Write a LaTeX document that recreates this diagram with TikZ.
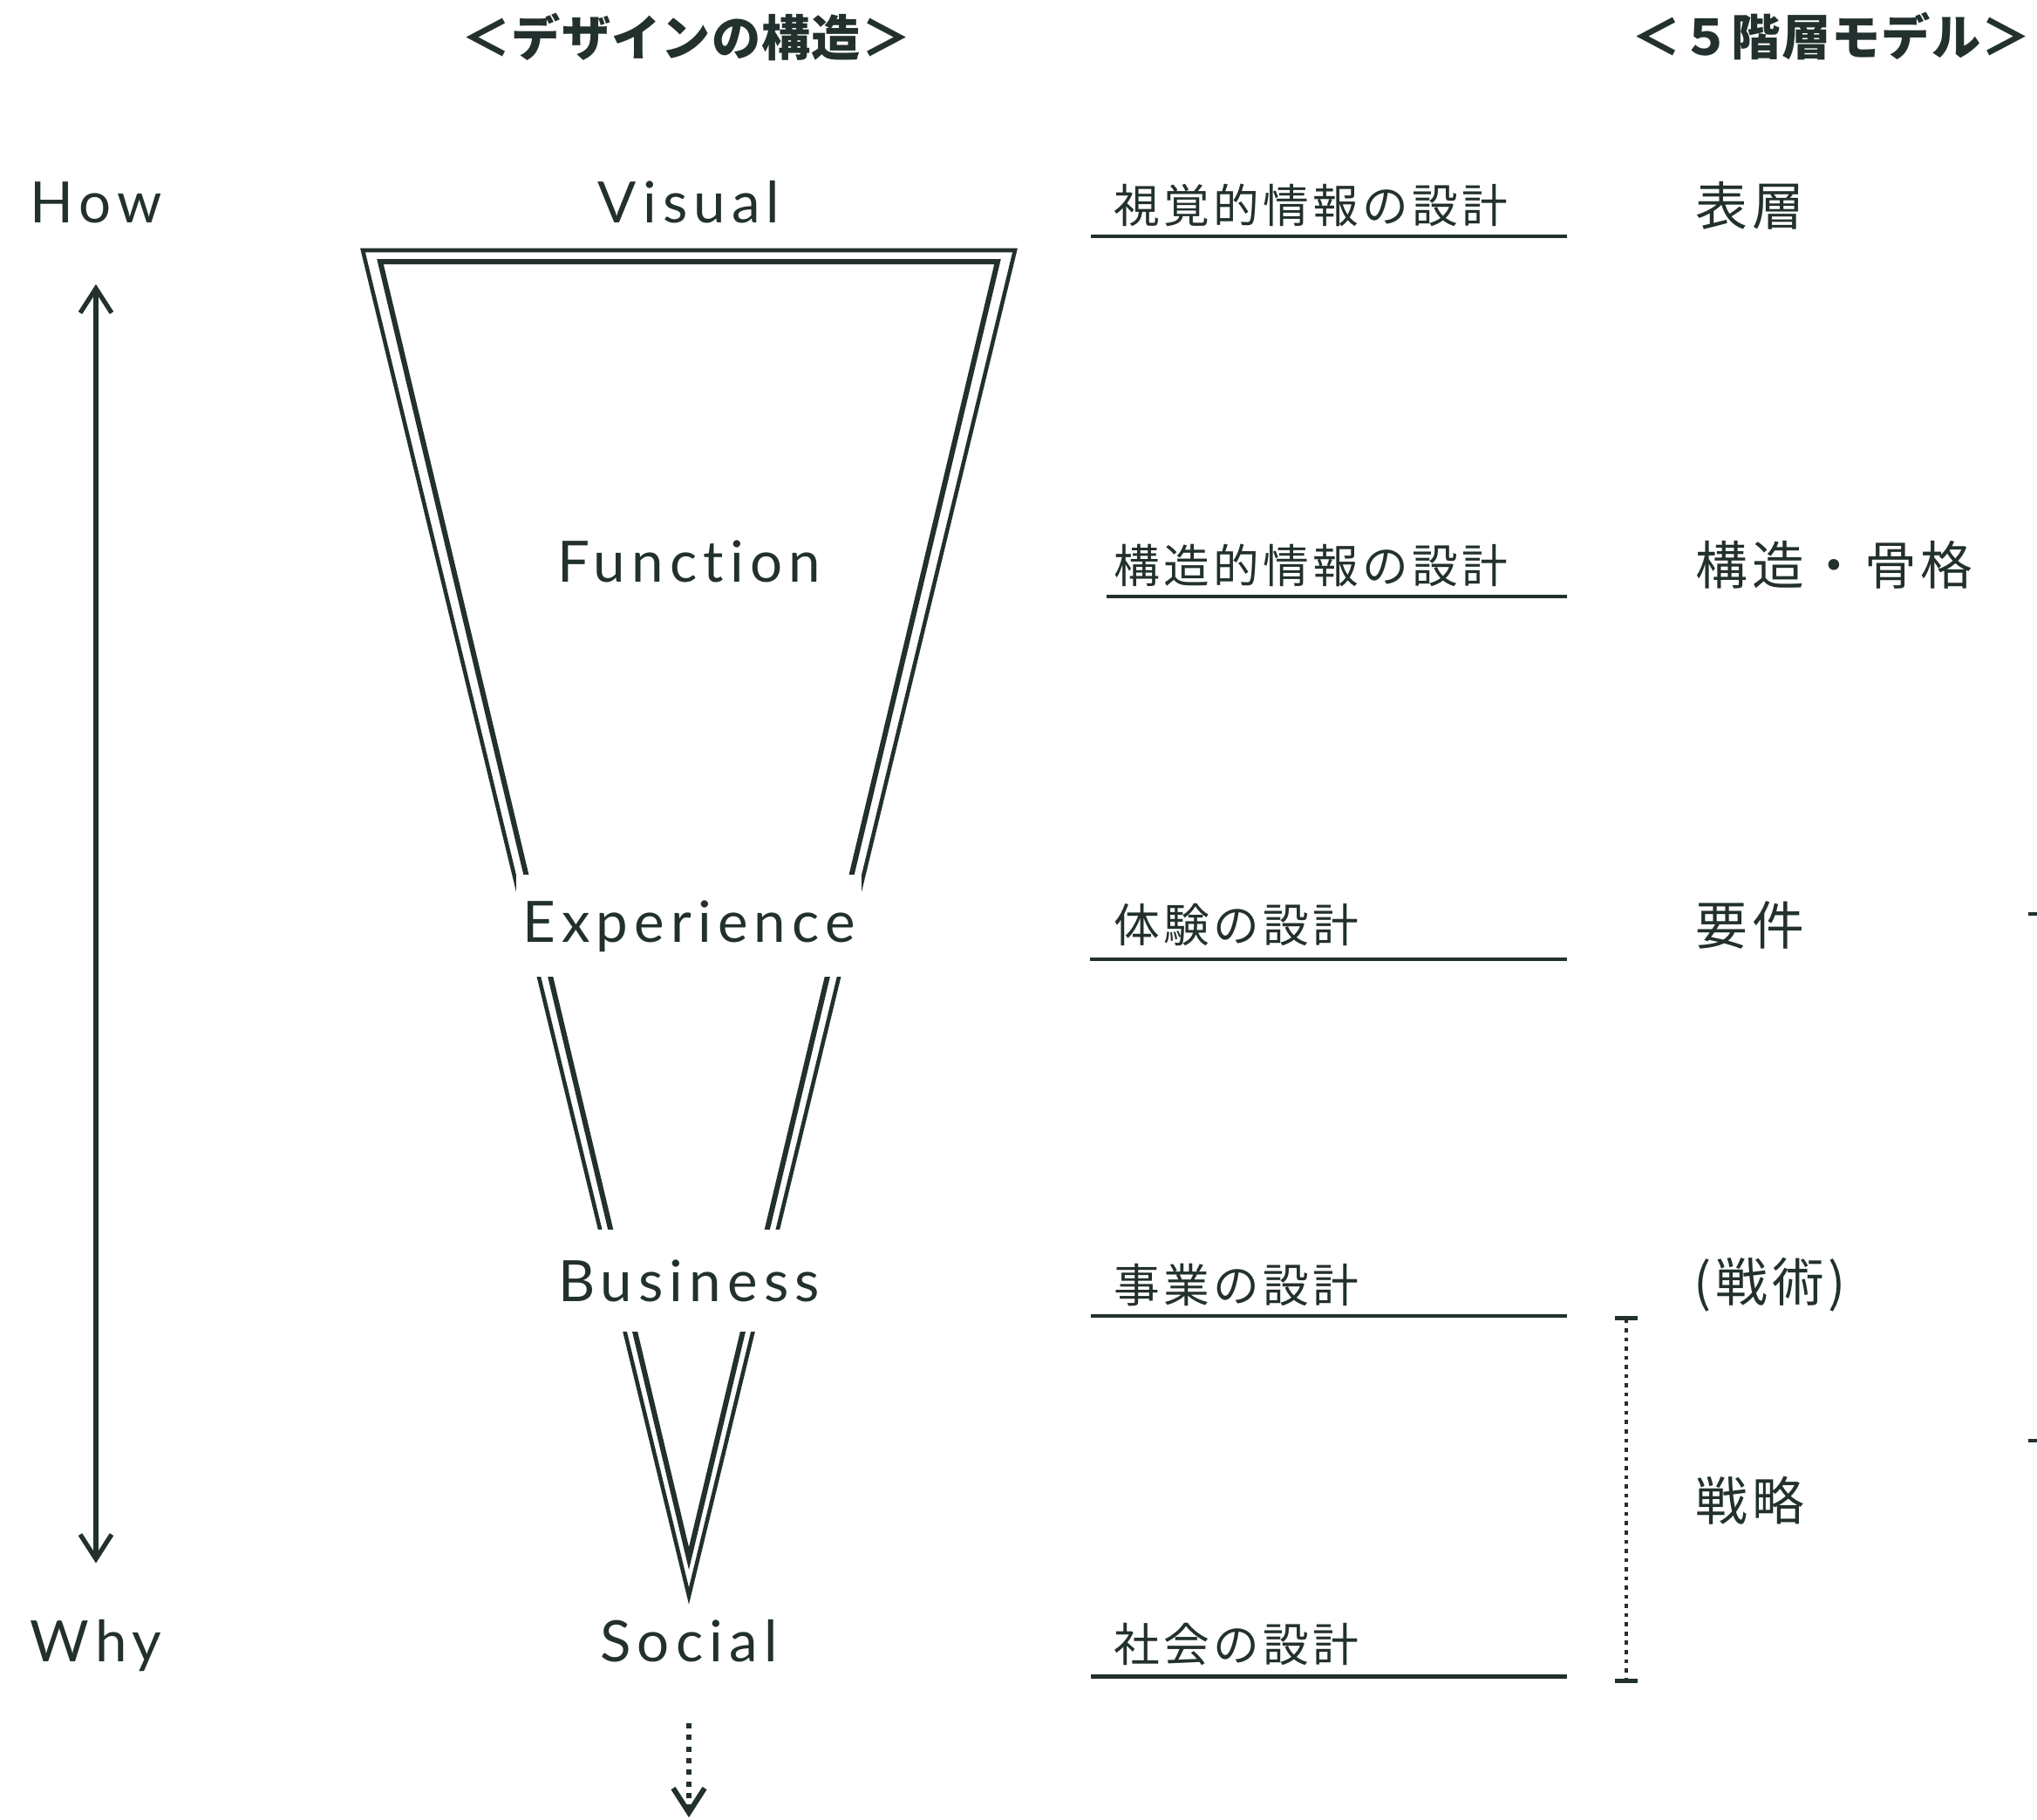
\documentclass[tikz,border=0pt]{standalone}
\usepackage{fontspec}
\setmainfont{Lato}
\newfontfamily\enfont[LetterSpace=11, Ligatures=NoCommon]{Lato}
\newfontfamily\jpfont[LetterSpace=8]{Noto Sans CJK JP}
\newfontfamily\jptitlefont[LetterSpace=2]{Noto Sans CJK JP}
\usetikzlibrary{arrows.meta}
\definecolor{ink}{HTML}{22302E}

\begin{document}
\begin{tikzpicture}[draw=ink, text=ink,
	>={Straight Barb[length=2.8mm,width=3.6mm]},
	en/.style = {anchor=base, font=\enfont\fontsize{18.6}{22}\selectfont},
	cut/.style = {fill=white, minimum height=1.17cm, inner xsep=2pt},
	jp/.style = {anchor=west, inner sep=0pt, font=\jpfont\fontsize{15}{18}\selectfont},
	layer/.style = {anchor=west, inner sep=0pt, font=\jpfont\fontsize{17}{20}\selectfont},
	title/.style = {font=\jptitlefont\bfseries\fontsize{16}{20}\selectfont}]
	\useasboundingbox (0,0) rectangle (23.36,-20.86);
	% funnel
	\coordinate (oL) at (4.16,-2.87);
	\coordinate (oR) at (11.64,-2.87);
	\coordinate (oA) at (7.90,-18.30);
	\coordinate (iL) at (4.36,-3.00);
	\coordinate (iR) at (11.44,-3.00);
	\coordinate (iA) at (7.90,-17.87);
	\draw[line width=1.3pt] (oL) -- (oR) -- (oA) -- cycle;
	\draw[line width=1.7pt] (iL) -- (iR) -- (iA) -- cycle;
	% titles
	\node (designtitle)	at ( 7.87, -0.42)	[title]	{＜デザインの構造＞};
	\node (modeltitle)	at (21.00, -0.42)	[title]	{＜５階層モデル＞};
	% design layers
	\node (visual)		at ( 7.90,  -2.55)	[en]		{Visual};
	\node (function)	at ( 7.90,  -6.675)	[en]		{Function};
	\node (experience)	at ( 7.90, -10.80)	[en, cut]	{Experience};
	\node (business)	at ( 7.90, -14.925)	[en, cut]	{Business};
	\node (social)		at ( 7.90, -19.05)	[en]		{Social};
	\node (how)			at ( 1.10,  -2.55)	[en]		{How};
	\node (why)			at ( 1.10, -19.05)	[en]		{Why};
	\coordinate (beyond) at (7.90,-20.84);
	\draw[line width=1.5pt, <->, shorten <=0.58cm, shorten >=0.52cm] (how) -- (why);
	\draw[line width=1.7pt, dash pattern=on 1.7pt off 2.1pt, ->, shorten <=0.58cm] (social) -- (beyond);
	% what is designed
	\node (jvisual)		at (12.77,  -2.355)	[jp]	{視覚的情報の設計};
	\node (jfunction)	at (12.77,  -6.48)	[jp]	{構造的情報の設計};
	\node (jexperience)	at (12.77, -10.605)	[jp]	{体験の設計};
	\node (jbusiness)	at (12.77, -14.73)	[jp]	{事業の設計};
	\node (jsocial)		at (12.77, -18.855)	[jp]	{社会の設計};
	\foreach \y/\x in {2.71/12.51, 6.84/12.69, 11.00/12.50, 15.09/12.51, 19.22/12.51}
		\draw[line width=1.4pt] (\x,-\y) -- (17.97,-\y);
	% five planes
	\node (surface)		at (19.44,  -2.355)	[layer]	{表層};
	\node (skeleton)	at (19.44,  -6.48)	[layer]	{構造・骨格};
	\node (scope)		at (19.44, -10.605)	[layer]	{要件};
	\node (tactics)		at (19.42, -14.73)	[layer]	{(戦術)};
	\node (strategy)	at (19.44, -17.21)	[layer]	{戦略};
	\coordinate (stratTop) at (18.65,-15.09);
	\coordinate (stratBot) at (18.65,-19.30);
	\draw[line width=1.3pt, dash pattern=on 1.3pt off 1.7pt, {Bar[width=2.6mm]}-{Bar[width=2.6mm]}] (stratTop) -- (stratBot);
	% cut-off marks at the right edge
	\draw[line width=1.2pt] (23.26,-10.48) -- (23.36,-10.48);
	\draw[line width=1.2pt] (23.26,-16.52) -- (23.36,-16.52);
\end{tikzpicture}
\end{document}
